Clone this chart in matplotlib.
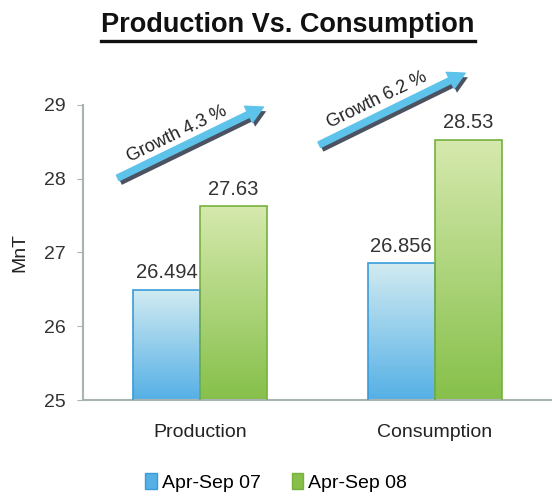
import numpy as np
import matplotlib
matplotlib.use('Agg')
import matplotlib.pyplot as plt
import matplotlib.patheffects as pe
from matplotlib.colors import LinearSegmentedColormap
from matplotlib.patches import Patch

plt.rcParams['font.family'] = ['Liberation Sans', 'DejaVu Sans']

# data
categories = ['Production', 'Consumption']
series_names = ['Apr-Sep 07', 'Apr-Sep 08']
values_07 = [26.494, 26.856]
values_08 = [27.63, 28.53]
value_labels_07 = ['26.494', '26.856']
value_labels_08 = ['27.63', '28.53']

# styles
blue_top, blue_bot, blue_edge = '#d2ebf1', '#55b0e6', '#3a9bd8'
green_top, green_bot, green_edge = '#d6e9ae', '#86c04a', '#76b03e'
bar_w = 0.285

fig = plt.figure(figsize=(5.52, 4.97), dpi=100)
ax = fig.add_axes([0.150, 0.195, 0.850, 0.594])

x = np.arange(len(categories))
bars07 = ax.bar(x - bar_w / 2, values_07, bar_w, color='none',
				edgecolor=blue_edge, linewidth=1.2, zorder=3)
bars08 = ax.bar(x + bar_w / 2, values_08, bar_w, color='none',
				edgecolor=green_edge, linewidth=1.2, zorder=3)

# gradient fill for every bar
def grad_fill(bars, c_top, c_bot):
	cmap = LinearSegmentedColormap.from_list('g', [c_bot, c_top])
	grad = np.linspace(0, 1, 256).reshape(-1, 1)
	for b in bars:
		x0, w = b.get_x(), b.get_width()
		h = b.get_height()
		im = ax.imshow(grad, cmap=cmap, origin='lower', aspect='auto',
					   extent=[x0, x0 + w, 25, h], zorder=2)
		im.set_clip_path(b)

grad_fill(bars07, blue_top, blue_bot)
grad_fill(bars08, green_top, green_bot)
ax.set_xlim(-0.5, 1.5)
ax.set_ylim(25, 29)

# value labels
for b, lab in zip(bars07, value_labels_07):
	ax.text(b.get_x() + b.get_width() / 2, b.get_height() + 0.1, lab,
			ha='center', va='bottom', fontsize=14.5, color='#333333')
for b, lab in zip(bars08, value_labels_08):
	ax.text(b.get_x() + b.get_width() / 2, b.get_height() + 0.1, lab,
			ha='center', va='bottom', fontsize=14.5, color='#333333')

# growth arrows
growth = [(b - a) / a * 100 for a, b in zip(values_07, values_08)]
arrow_pos = [((-0.351, 28.01), (0.27, 28.97), (-0.10, 28.60)),
			 ((0.508, 28.46), (1.13, 29.43), (0.755, 29.07))]
for g, (start, end, tpos) in zip(growth, arrow_pos):
	ax.annotate('', xy=end, xytext=start, annotation_clip=False,
				arrowprops=dict(arrowstyle='simple,head_length=0.6,head_width=0.65,tail_width=0.22',
								mutation_scale=20, color='#5ec3ea', shrinkA=0, shrinkB=0,
								path_effects=[pe.SimplePatchShadow(offset=(2, -3), shadow_rgbFace='#4b5262', alpha=1),
											  pe.Normal()]))
	ax.text(tpos[0], tpos[1], f'Growth {g:.1f} %', rotation=26, ha='center', va='center',
			rotation_mode='anchor', fontsize=13, color='#222222', clip_on=False)

# axes styling
for s in ['top', 'right']:
	ax.spines[s].set_visible(False)
for s in ['left', 'bottom']:
	ax.spines[s].set_color('#a9b3b1')
	ax.spines[s].set_linewidth(1.5)
ax.set_yticks([25, 26, 27, 28, 29])
ax.set_xticks(x)
ax.set_xticklabels(categories, fontsize=14, color='#222222')
ax.tick_params(axis='x', length=0, pad=17)
ax.tick_params(axis='y', length=4.5, color='#a9b3b1', labelsize=14, labelcolor='#333333', pad=8)
ax.set_ylabel('MnT', fontsize=14, color='#222222', labelpad=11)

# title with underline
title = fig.text(0.522, 0.950, 'Production Vs. Consumption', ha='center', va='center',
				 fontsize=19.5, fontweight='bold', color='#111111')
fig.canvas.draw()
bb = title.get_window_extent().transformed(fig.transFigure.inverted())
fig.add_artist(plt.Line2D([bb.x0, bb.x1], [bb.y0 - 0.006, bb.y0 - 0.006],
						  transform=fig.transFigure, color='#111111', linewidth=2.4))

handles = [Patch(facecolor=blue_bot, edgecolor=blue_edge, label=series_names[0]),
		   Patch(facecolor=green_bot, edgecolor=green_edge, label=series_names[1])]
fig.legend(handles=handles, loc='lower center', bbox_to_anchor=(0.5, -0.025), ncol=2,
		   frameon=False, fontsize=14, handlelength=0.6, handleheight=0.9,
		   handletextpad=0.25, columnspacing=1.6)

fig.savefig('out.png', dpi=100)
